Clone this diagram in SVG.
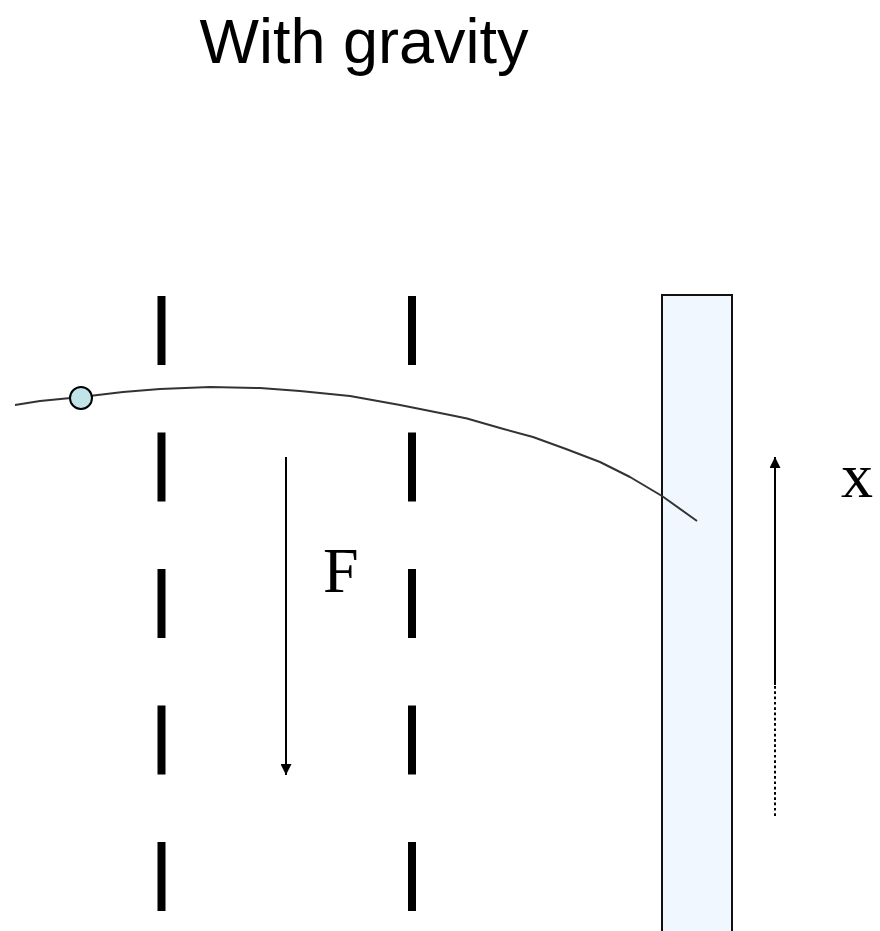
<svg xmlns="http://www.w3.org/2000/svg" width="880" height="931" viewBox="0 0 880 931">
<style>
.title{font-family:"Liberation Sans",Arial,sans-serif;font-size:63px;fill:#000}
.lbl{font-family:"Liberation Serif","Times New Roman",serif;font-size:64px;fill:#000}
.slit{stroke:#000;stroke-width:8;stroke-dasharray:69 67.5;fill:none}
.arrow{stroke:#000;stroke-width:2;fill:none}
</style>
<defs>
<marker id="ah" viewBox="0 0 10 10" refX="10" refY="5" markerWidth="11" markerHeight="11" markerUnits="userSpaceOnUse" orient="auto">
<path d="M0,0 L10,5 L0,10 Z" fill="#000"/>
</marker>
</defs>
<rect width="880" height="931" fill="#fff"/>
<text class="title" x="364" y="63" text-anchor="middle">With gravity</text>
<g id="slit-left"><line class="slit" x1="161.5" y1="296" x2="161.5" y2="911"/></g>
<g id="slit-right"><line class="slit" x1="412" y1="296" x2="412" y2="911"/></g>
<g id="screen"><rect x="662" y="295" width="70" height="650" fill="#F0F7FF" stroke="#111" stroke-width="2"/></g>
<g id="connectors">
<polyline points="15,405 40,401 81,397 123,392 160,389 210,387 260,388 300,391 350,396 400,405 450,415 467,418.5 500,428 533,437 566,449 600,462 630,477 662,496 697,521" fill="none" stroke="#333" stroke-width="2" stroke-linejoin="round"/>
<line class="arrow" x1="286" y1="457" x2="286" y2="775" marker-end="url(#ah)"/>
<line class="arrow" x1="775" y1="685" x2="775" y2="457" marker-end="url(#ah)"/>
<line x1="775" y1="686" x2="775" y2="818" stroke="#000" stroke-width="2" stroke-dasharray="2.7 2.6"/>
</g>
<g id="particle"><circle cx="81" cy="398" r="11" fill="#C0E4E8" stroke="#000" stroke-width="2"/></g>
<g id="label-F"><text class="lbl" x="323" y="592">F</text></g>
<g id="label-x"><text class="lbl" x="841" y="497">x</text></g>
</svg>
